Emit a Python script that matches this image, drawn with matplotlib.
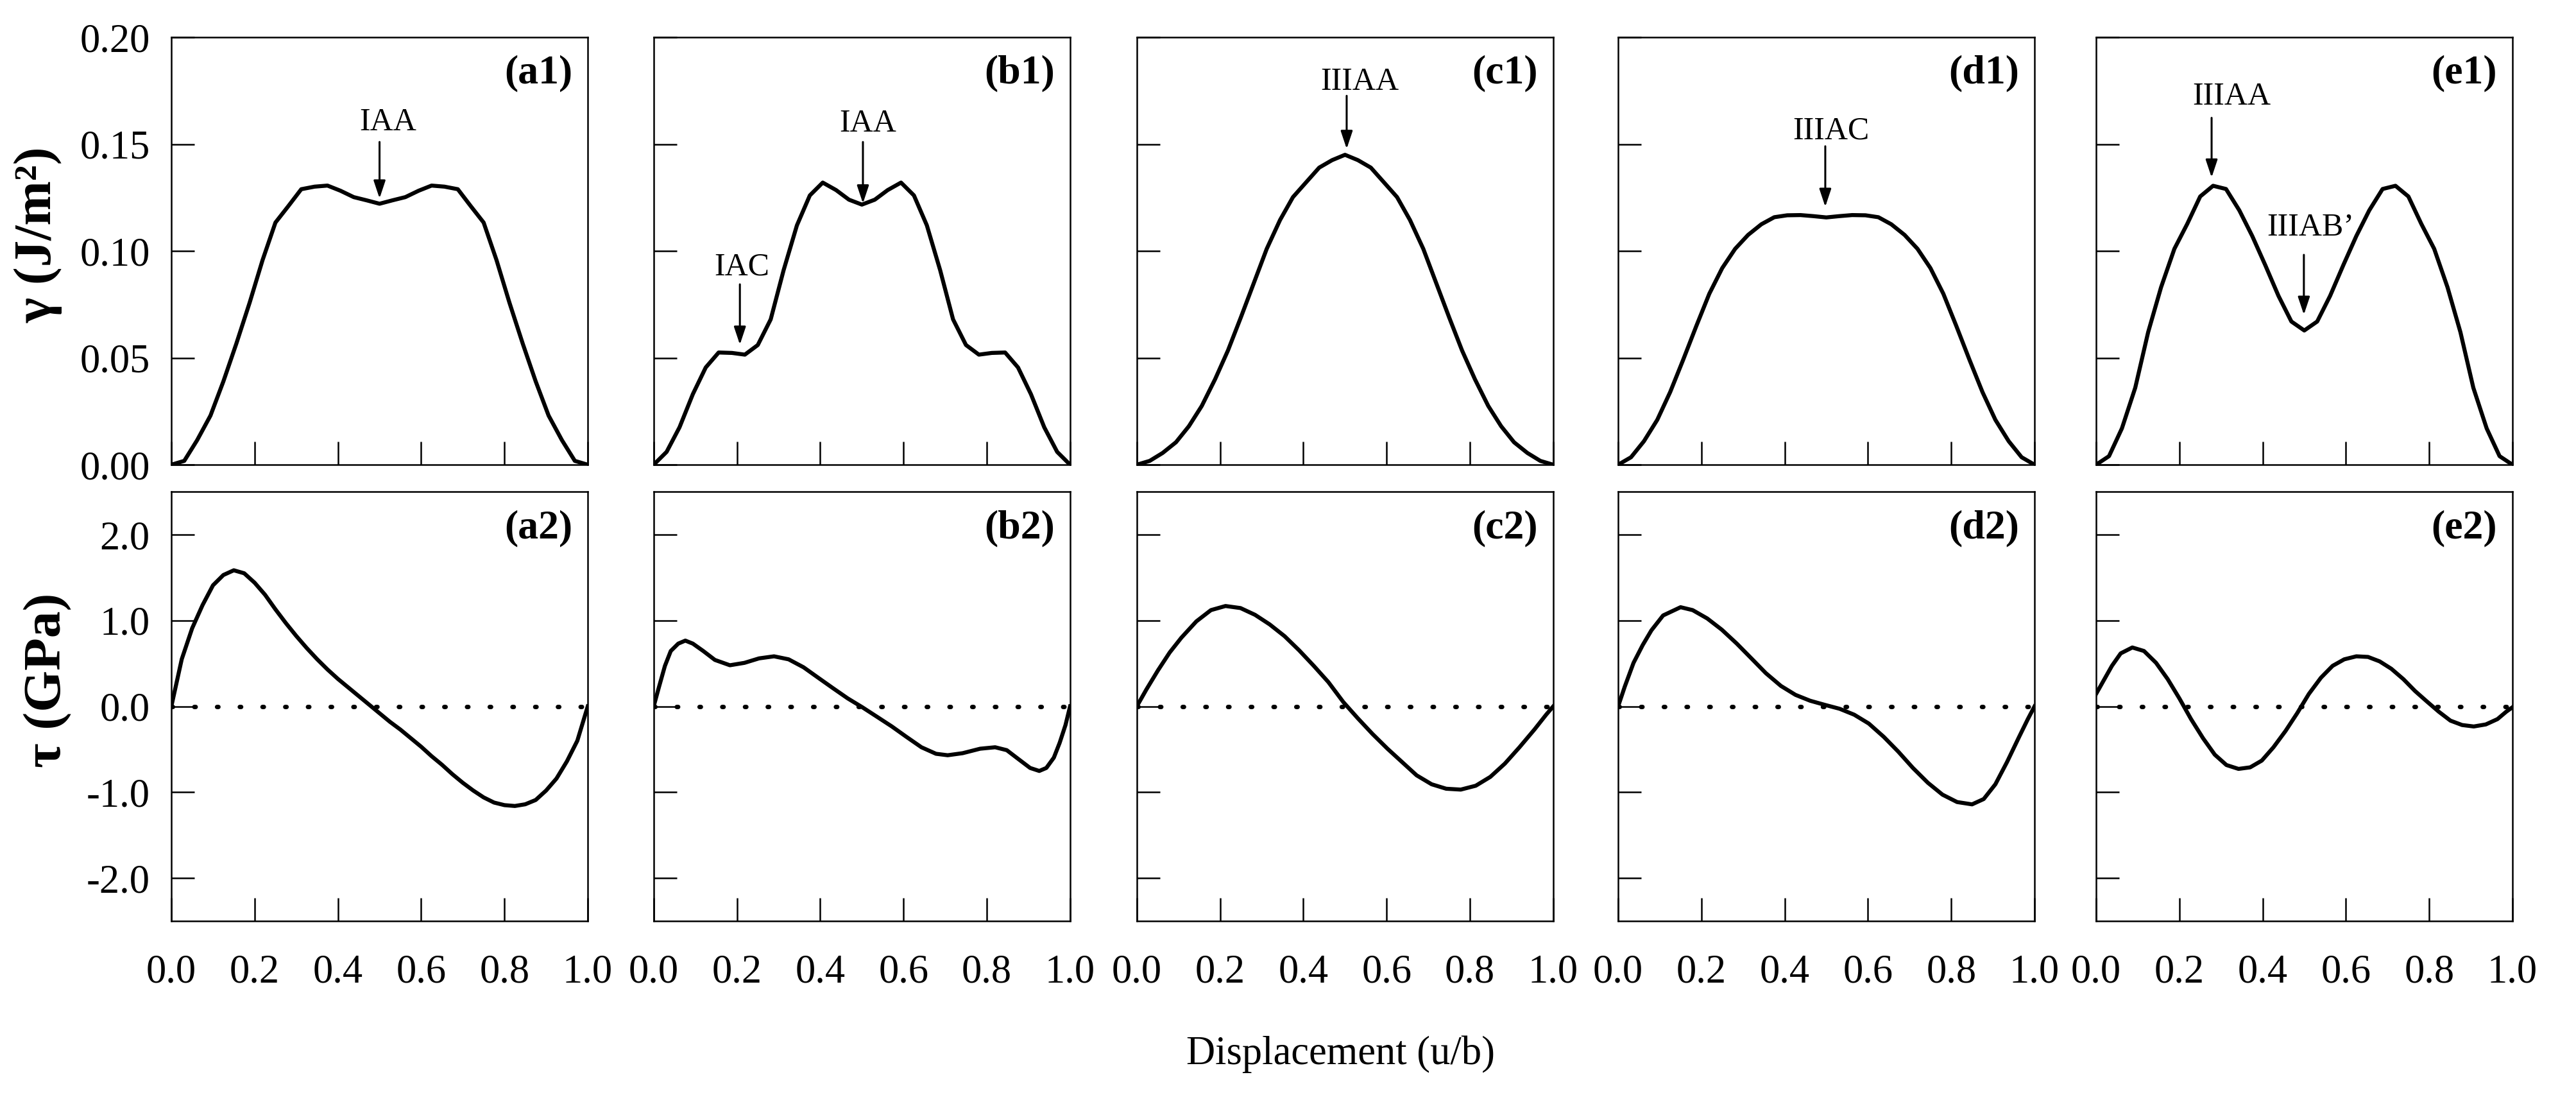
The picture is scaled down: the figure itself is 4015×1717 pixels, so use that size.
import numpy as np
import matplotlib
matplotlib.use('Agg')
import matplotlib.pyplot as plt
from matplotlib.ticker import FormatStrFormatter

plt.rcParams['font.family'] = ['Liberation Serif', 'DejaVu Serif']
plt.rcParams['axes.unicode_minus'] = False

# displacement grid of the gamma curves (u/b)
u_gamma = [0, .031, .062, .094, .125, .156, .188, .219, .25, .281, .312, .344, .375,
           .406, .438, .469, .5, .531, .562, .594, .625, .656, .688, .719, .75, .781,
           .812, .844, .875, .906, .938, .969, 1]

# GSF energy gamma (J/m^2)
gamma_a = [0, 0.0018, 0.0115, 0.023, 0.039, 0.0566, 0.0758, 0.0957, 0.1133, 0.121, 0.1289,
           0.1301, 0.1306, 0.1282, 0.1252, 0.1237, 0.1221, 0.1237, 0.1252, 0.1282, 0.1306,
           0.1301, 0.1289, 0.121, 0.1133, 0.0957, 0.0758, 0.0566, 0.039, 0.023, 0.0115, 0.0018, 0]
gamma_b = [0, 0.006, 0.0175, 0.033, 0.0455, 0.0525, 0.0523, 0.0515, 0.056, 0.068, 0.091,
           0.112, 0.126, 0.132, 0.1285, 0.124, 0.1217, 0.124, 0.1285, 0.132, 0.126, 0.112,
           0.091, 0.068, 0.056, 0.0515, 0.0523, 0.0525, 0.0455, 0.033, 0.0175, 0.006, 0]
gamma_c = [0, 0.0018, 0.0055, 0.0105, 0.018, 0.0275, 0.040, 0.0535, 0.069, 0.085, 0.101,
           0.1145, 0.1252, 0.132, 0.139, 0.1425, 0.145, 0.1425, 0.139, 0.132, 0.1252, 0.1145,
           0.101, 0.085, 0.069, 0.0535, 0.040, 0.0275, 0.018, 0.0105, 0.0055, 0.0018, 0]
gamma_d = [0, 0.0035, 0.011, 0.021, 0.034, 0.049, 0.065, 0.080, 0.092, 0.101, 0.1075,
           0.1125, 0.1158, 0.1167, 0.1168, 0.1163, 0.1157, 0.1163, 0.1168, 0.1167, 0.1158,
           0.1125, 0.1075, 0.101, 0.092, 0.080, 0.065, 0.049, 0.034, 0.021, 0.011, 0.0035, 0]
gamma_e = [0, 0.004, 0.017, 0.036, 0.062, 0.083, 0.101, 0.1127, 0.1255, 0.1305, 0.129,
           0.119, 0.107, 0.0935, 0.079, 0.067, 0.0628, 0.067, 0.079, 0.0935, 0.107, 0.119,
           0.129, 0.1305, 0.1255, 0.1127, 0.101, 0.083, 0.062, 0.036, 0.017, 0.004, 0]

# restoring stress tau (GPa)
u_tau_a = [0, .025, .05, .075, .1, .125, .15, .175, .2, .225, .25, .275, .3, .325, .35, .375,
           .4, .425, .45, .475, .5, .525, .55, .575, .6, .625, .65, .675, .7, .725, .75, .775,
           .8, .825, .85, .875, .9, .925, .95, .975, 1]
tau_a = [0, 0.55, 0.91, 1.18, 1.41, 1.53, 1.585, 1.55, 1.44, 1.30, 1.13, 0.97, 0.82, 0.68,
         0.55, 0.43, 0.32, 0.22, 0.12, 0.02, -0.08, -0.18, -0.27, -0.37, -0.47, -0.58, -0.68,
         -0.79, -0.89, -0.98, -1.06, -1.12, -1.15, -1.16, -1.14, -1.09, -0.98, -0.84, -0.64,
         -0.40, 0]

u_tau_b = [0, .013, .027, .041, .059, .076, .094, .119, .147, .183, .218, .253, .289, .324,
           .36, .395, .43, .466, .501, .536, .572, .607, .643, .678, .706, .742, .784, .82,
           .848, .876, .904, .926, .943, .961, .975, .989, 1]
tau_b = [0, 0.231, 0.472, 0.645, 0.731, 0.766, 0.731, 0.645, 0.541, 0.479, 0.507, 0.559,
         0.583, 0.548, 0.455, 0.334, 0.214, 0.093, -0.01, -0.12, -0.234, -0.355, -0.476,
         -0.552, -0.569, -0.545, -0.493, -0.476, -0.51, -0.614, -0.717, -0.752, -0.717,
         -0.597, -0.424, -0.217, 0]

u_tau_c = [0, .023, .051, .079, .107, .143, .178, .213, .249, .284, .319, .355, .39, .425,
           .46, .496, .531, .566, .602, .637, .672, .708, .743, .778, .814, .849, .884, .919,
           .955, .983, 1]
tau_c = [0, 0.197, 0.421, 0.628, 0.80, 0.99, 1.121, 1.169, 1.145, 1.066, 0.955, 0.817, 0.652,
         0.472, 0.283, 0.05, -0.14, -0.321, -0.493, -0.648, -0.803, -0.907, -0.959, -0.969,
         -0.924, -0.821, -0.666, -0.476, -0.269, -0.097, 0]

u_tau_d = [0, .016, .037, .059, .08, .108, .15, .179, .214, .249, .285, .32, .355, .391, .426,
           .461, .497, .532, .567, .602, .638, .673, .708, .744, .779, .814, .85, .878, .906,
           .934, .963, .984, 1]
tau_d = [0, 0.231, 0.507, 0.714, 0.886, 1.059, 1.155, 1.121, 1.024, 0.893, 0.731, 0.559,
         0.386, 0.238, 0.134, 0.066, 0.017, -0.028, -0.097, -0.20, -0.355, -0.528, -0.717,
         -0.89, -1.028, -1.114, -1.141, -1.079, -0.907, -0.648, -0.355, -0.148, 0]

u_tau_e = [0, .016, .038, .059, .087, .115, .144, .172, .2, .228, .257, .285, .313, .342,
           .37, .398, .426, .455, .483, .511, .54, .568, .596, .625, .653, .681, .709, .738,
           .766, .794, .823, .851, .879, .907, .936, .964, .985, 1]
tau_e = [0.145, 0.283, 0.472, 0.617, 0.686, 0.645, 0.507, 0.317, 0.093, -0.148, -0.372,
         -0.562, -0.683, -0.728, -0.71, -0.631, -0.476, -0.286, -0.079, 0.145, 0.334, 0.472,
         0.548, 0.583, 0.576, 0.524, 0.438, 0.317, 0.179, 0.059, -0.062, -0.166, -0.217,
         -0.234, -0.21, -0.148, -0.062, -0.01]

gammas = [gamma_a, gamma_b, gamma_c, gamma_d, gamma_e]
taus = [(u_tau_a, tau_a), (u_tau_b, tau_b), (u_tau_c, tau_c), (u_tau_d, tau_d), (u_tau_e, tau_e)]
panel_ids = ['a', 'b', 'c', 'd', 'e']

# (panel, label, text x, text y, arrow x, arrow start, arrow tip)
notes = [
    (0, 'IAA', 0.52, 0.160, 0.50, 0.151, 0.1246),
    (1, 'IAC', 0.212, 0.0924, 0.207, 0.0844, 0.0562),
    (1, 'IAA', 0.515, 0.1595, 0.5025, 0.151, 0.1223),
    (2, 'IIIAA', 0.535, 0.179, 0.504, 0.1726, 0.1478),
    (3, 'IIIAC', 0.512, 0.156, 0.4975, 0.149, 0.1207),
    (4, 'IIIAA', 0.3255, 0.1723, 0.2774, 0.1623, 0.1344),
    (4, 'IIIAB\u2019', 0.5145, 0.111, 0.499, 0.0982, 0.0702),
]

fig = plt.figure(figsize=(40.16, 17.17), dpi=100)
lefts = [0.0665, 0.2537, 0.4412, 0.6280, 0.8135]
width = 0.1616

def style(ax):
    ax.set_xlim(0, 1)
    ax.set_xticks([0, 0.2, 0.4, 0.6, 0.8, 1.0])
    ax.tick_params(direction='in', length=26, width=1.8, labelsize=45, top=False, right=False)
    ax.tick_params(axis='x', pad=37)
    ax.tick_params(axis='y', pad=24)
    for s in ax.spines.values():
        s.set_linewidth(1.8)

for i in range(5):
    ax1 = fig.add_axes([lefts[i], 0.5783, width, 0.3879])
    ax2 = fig.add_axes([lefts[i], 0.1642, width, 0.3896])
    style(ax1)
    style(ax2)

    ax1.plot(u_gamma, gammas[i], color='k', lw=4.5, solid_joinstyle='round')
    ax1.set_ylim(0, 0.2)
    ax1.set_yticks([0, 0.05, 0.10, 0.15, 0.20])
    ax1.yaxis.set_major_formatter(FormatStrFormatter('%.2f'))
    ax1.tick_params(labelbottom=False)
    ax1.text(0.963, 0.915, '(%s1)' % panel_ids[i], transform=ax1.transAxes, ha='right',
             va='center', fontsize=46, fontweight='bold')

    ux, tv = taus[i]
    ax2.axhline(0, color='k', lw=5, ls=(0, (0.3, 4.8)), dash_capstyle='round')
    ax2.plot(ux, tv, color='k', lw=4.5, solid_joinstyle='round')
    ax2.set_ylim(-2.5, 2.5)
    ax2.set_yticks([-2, -1, 0, 1, 2])
    ax2.yaxis.set_major_formatter(FormatStrFormatter('%.1f'))
    ax2.xaxis.set_major_formatter(FormatStrFormatter('%.1f'))
    ax2.text(0.963, 0.915, '(%s2)' % panel_ids[i], transform=ax2.transAxes, ha='right',
             va='center', fontsize=46, fontweight='bold')

    if i > 0:
        ax1.tick_params(labelleft=False)
        ax2.tick_params(labelleft=False)

    for p, label, tx, ty, axx, y0, y1 in notes:
        if p != i:
            continue
        ax1.text(tx, ty, label, ha='center', va='center', fontsize=36)
        ax1.annotate('', xy=(axx, y1), xytext=(axx, y0),
                     arrowprops=dict(arrowstyle='-|>,head_length=0.6,head_width=0.2',
                                     color='k', lw=2.2, mutation_scale=28, shrinkA=0, shrinkB=0))

fig.text(60 / 4016, 1 - 366 / 1717, '\u03b3 (J/m\u00b2)', rotation=90, ha='center', va='center',
         fontsize=60, fontweight='bold')
fig.text(75 / 4016, 1 - 1060 / 1717, '\u03c4 (GPa)', rotation=90, ha='center', va='center',
         fontsize=60, fontweight='bold')
fig.text(2090 / 4016, 1 - 1643 / 1717, 'Displacement (u/b)', ha='center', va='center', fontsize=45)

fig.savefig('out.png', dpi=100, facecolor='white')
